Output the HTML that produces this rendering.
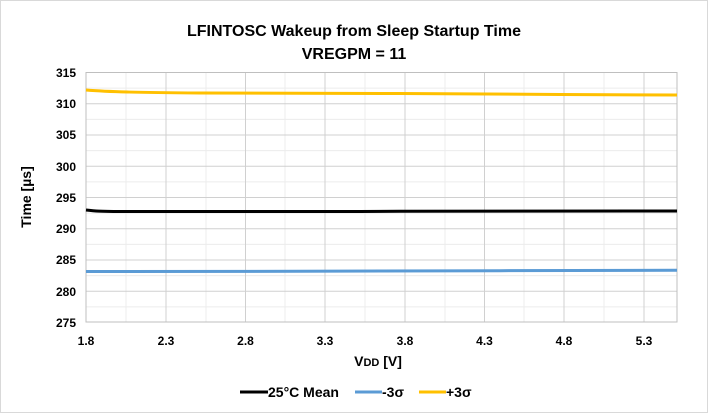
<!DOCTYPE html>
<html><head><meta charset="utf-8"><style>
body{margin:0;background:#fff;}
svg{display:block;font-family:"Liberation Sans",sans-serif;}
</style></head><body>
<svg width="709" height="414" viewBox="0 0 709 414">
<rect x="0.5" y="0.5" width="707" height="412" fill="#fff" stroke="#d9d9d9"/>
<text x="354" y="36" text-anchor="middle" font-size="16" font-weight="bold" fill="#000">LFINTOSC Wakeup from Sleep Startup Time</text>
<text x="354" y="59" text-anchor="middle" font-size="16" font-weight="bold" fill="#000">VREGPM = 11</text>
<g stroke="#ececec" stroke-width="1">
<line x1="126" y1="72.5" x2="126" y2="322"/><line x1="206" y1="72.5" x2="206" y2="322"/><line x1="285" y1="72.5" x2="285" y2="322"/><line x1="365" y1="72.5" x2="365" y2="322"/><line x1="445" y1="72.5" x2="445" y2="322"/><line x1="524" y1="72.5" x2="524" y2="322"/><line x1="604" y1="72.5" x2="604" y2="322"/>
<line x1="86" y1="88.1" x2="677" y2="88.1"/><line x1="86" y1="119.4" x2="677" y2="119.4"/><line x1="86" y1="150.6" x2="677" y2="150.6"/><line x1="86" y1="181.9" x2="677" y2="181.9"/><line x1="86" y1="213.1" x2="677" y2="213.1"/><line x1="86" y1="244.4" x2="677" y2="244.4"/><line x1="86" y1="275.6" x2="677" y2="275.6"/><line x1="86" y1="306.9" x2="677" y2="306.9"/>
</g>
<g stroke="#d0d0d0" stroke-width="1">
<line x1="166" y1="72.5" x2="166" y2="322"/><line x1="245.5" y1="72.5" x2="245.5" y2="322"/><line x1="325" y1="72.5" x2="325" y2="322"/><line x1="405" y1="72.5" x2="405" y2="322"/><line x1="484.5" y1="72.5" x2="484.5" y2="322"/><line x1="564" y1="72.5" x2="564" y2="322"/><line x1="644" y1="72.5" x2="644" y2="322"/>
<line x1="86" y1="103.75" x2="677" y2="103.75"/><line x1="86" y1="135" x2="677" y2="135"/><line x1="86" y1="166.25" x2="677" y2="166.25"/><line x1="86" y1="197.5" x2="677" y2="197.5"/><line x1="86" y1="228.75" x2="677" y2="228.75"/><line x1="86" y1="260" x2="677" y2="260"/><line x1="86" y1="291.25" x2="677" y2="291.25"/>
</g>
<rect x="86" y="72.5" width="591" height="249.5" fill="none" stroke="#bfbfbf"/>
<g font-size="12" font-weight="bold" fill="#000" text-anchor="end">
<text x="76" y="77">315</text><text x="76" y="108">310</text><text x="76" y="139">305</text><text x="76" y="171">300</text><text x="76" y="202">295</text><text x="76" y="233">290</text><text x="76" y="264">285</text><text x="76" y="296">280</text><text x="76" y="327">275</text>
</g>
<g font-size="12" font-weight="bold" fill="#000" text-anchor="middle">
<text x="86" y="345">1.8</text><text x="166" y="345">2.3</text><text x="245.5" y="345">2.8</text><text x="325" y="345">3.3</text><text x="405" y="345">3.8</text><text x="484.5" y="345">4.3</text><text x="564" y="345">4.8</text><text x="644" y="345">5.3</text>
</g>
<text x="378" y="366" text-anchor="middle" font-size="14" font-weight="bold" fill="#000">V<tspan font-size="11">DD</tspan> [V]</text>
<text transform="translate(31,197) rotate(-90)" text-anchor="middle" font-size="14" font-weight="bold" fill="#000">Time [µs]</text>
<path d="M86,90 C110,92 140,92.5 200,93 L400,93.5 L560,94.5 L677,95" fill="none" stroke="#ffc000" stroke-width="3"/>
<path d="M86,210 C95,211 100,211.5 120,211.5 L360,211.5 L400,211.3 L677,211" fill="none" stroke="#000" stroke-width="3"/>
<path d="M86,271.5 L300,271.3 L500,270.7 L677,270.3" fill="none" stroke="#5b9bd5" stroke-width="3"/>
<g font-size="14" font-weight="bold" fill="#000">
<line x1="240" y1="392" x2="268" y2="392" stroke="#000" stroke-width="3"/><text x="268" y="397">25°C Mean</text>
<line x1="355" y1="392" x2="382" y2="392" stroke="#5b9bd5" stroke-width="3"/><text x="382" y="397">-3σ</text>
<line x1="419" y1="392" x2="446" y2="392" stroke="#ffc000" stroke-width="3"/><text x="446" y="397">+3σ</text>
</g>
</svg>
</body></html>
